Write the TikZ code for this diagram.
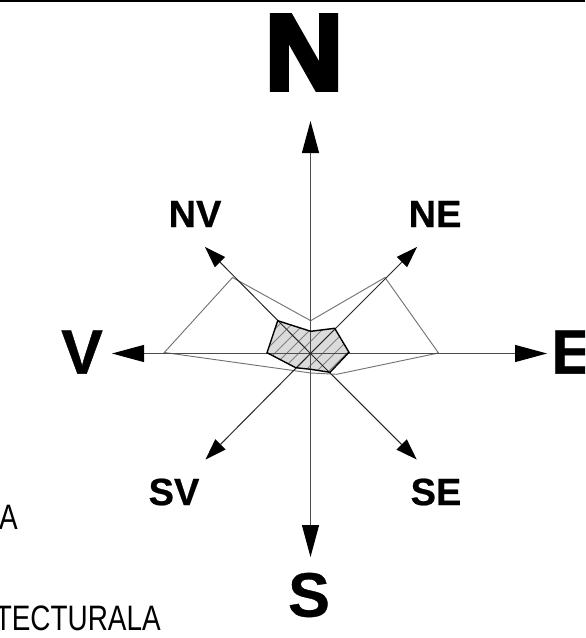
\documentclass[tikz,border=0pt]{standalone}
\usepackage{fontspec}
\usetikzlibrary{arrows.meta}
\setmainfont{Liberation Sans}[BoldFeatures={FakeBold=0.6}]
\newfontfamily\heavyfont[BoldFeatures={FakeBold=5,FakeStretch=1.0}]{Liberation Sans}
\newfontfamily\narrowfont[FakeStretch=0.79]{Liberation Sans}
\tikzset{
 axis/.style={draw=black!70,line width=0.8pt,-{Triangle[length=24pt,width=13pt,fill=black,line width=0pt]}},
 diag/.style={draw=black!85,line width=0.75pt,-{Triangle[length=16pt,width=11pt,fill=black,line width=0pt]}},
 lab/.style={inner sep=0,font=\bfseries\fontsize{28.5}{30}\selectfont},
 biglab/.style={inner sep=0,font=\bfseries\fontsize{47}{50}\selectfont},
 plain/.style={inner sep=0,font=\narrowfont\fontsize{26.5}{27}\selectfont,anchor=base east},
 outer/.style={draw=black!55,line width=0.7pt,line join=miter},
 inner/.style={draw=black,line width=1.05pt,line join=miter},
 hatch/.style={draw=black!50,line width=0.55pt}
}
\begin{document}
\begin{tikzpicture}[x=0.75pt,y=-0.75pt]
\useasboundingbox (0,0) rectangle (585,638);
\clip (0,0) rectangle (585,638);
\fill[black] (0,0) rectangle (585,2.5);
% named points
\coordinate (c) at (310.5,353.5);
\coordinate (tn) at (310.5,121);
\coordinate (ts) at (310.5,557);
\coordinate (tw) at (112,353.5);
\coordinate (te) at (547,353.5);
\coordinate (tnw) at (205,247);
\coordinate (tne) at (417,247);
\coordinate (tsw) at (205.5,459.5);
\coordinate (tse) at (416.7,459.5);
% outer polygon
\draw[outer] (232.5,277.5) -- (310.7,320.7) -- (385,277.5) -- (438.5,353) -- (336.7,374.3) -- (310.7,373) -- (296.7,371) -- (164.3,352.5) -- cycle;
% inner polygon fill and hatch
\fill[black!14] (277.7,320.7) -- (310.7,331.3) -- (334.7,328.3) -- (349,352.3) -- (330,372.3) -- (310.7,369.3) -- (295.7,367.7) -- (267,352.7) -- cycle;
\begin{scope}
\clip (277.7,320.7) -- (310.7,331.3) -- (334.7,328.3) -- (349,352.3) -- (330,372.3) -- (310.7,369.3) -- (295.7,367.7) -- (267,352.7) -- cycle;
\foreach \k in {-6,...,9}{
 \draw[hatch] (310.5+\k*12-60,353.5+60) -- (310.5+\k*12+60,353.5-60);
}
\end{scope}
% axes
\draw[axis] (c) -- (tn);
\draw[axis] (c) -- (ts);
\draw[axis] (c) -- (tw);
\draw[axis] (c) -- (te);
\draw[diag] (c) -- (tnw);
\draw[diag] (c) -- (tne);
\draw[diag] (c) -- (tsw);
\draw[diag] (c) -- (tse);
\draw[inner] (277.7,320.7) -- (310.7,331.3) -- (334.7,328.3) -- (349,352.3) -- (330,372.3) -- (310.7,369.3) -- (295.7,367.7) -- (267,352.7) -- cycle;
% labels
\node[inner sep=0,font=\heavyfont\bfseries\fontsize{80}{84}\selectfont] (ln) at (304,52.5) {N};
\node[biglab] (ls) at (309,595) {S};
\node[biglab] (lv) at (82,352) {V};
\node[biglab,anchor=west] (le) at (551,352) {E};
\node[lab] (lnv) at (195,214) {NV};
\node[lab] (lne) at (435,214) {NE};
\node[lab] (lsv) at (174,492) {SV};
\node[lab] (lse) at (436,492) {SE};
\node[plain] (ta) at (18,529) {A};
\node[plain] (tb) at (161,630) {TECTURALA};
\end{tikzpicture}
\end{document}
